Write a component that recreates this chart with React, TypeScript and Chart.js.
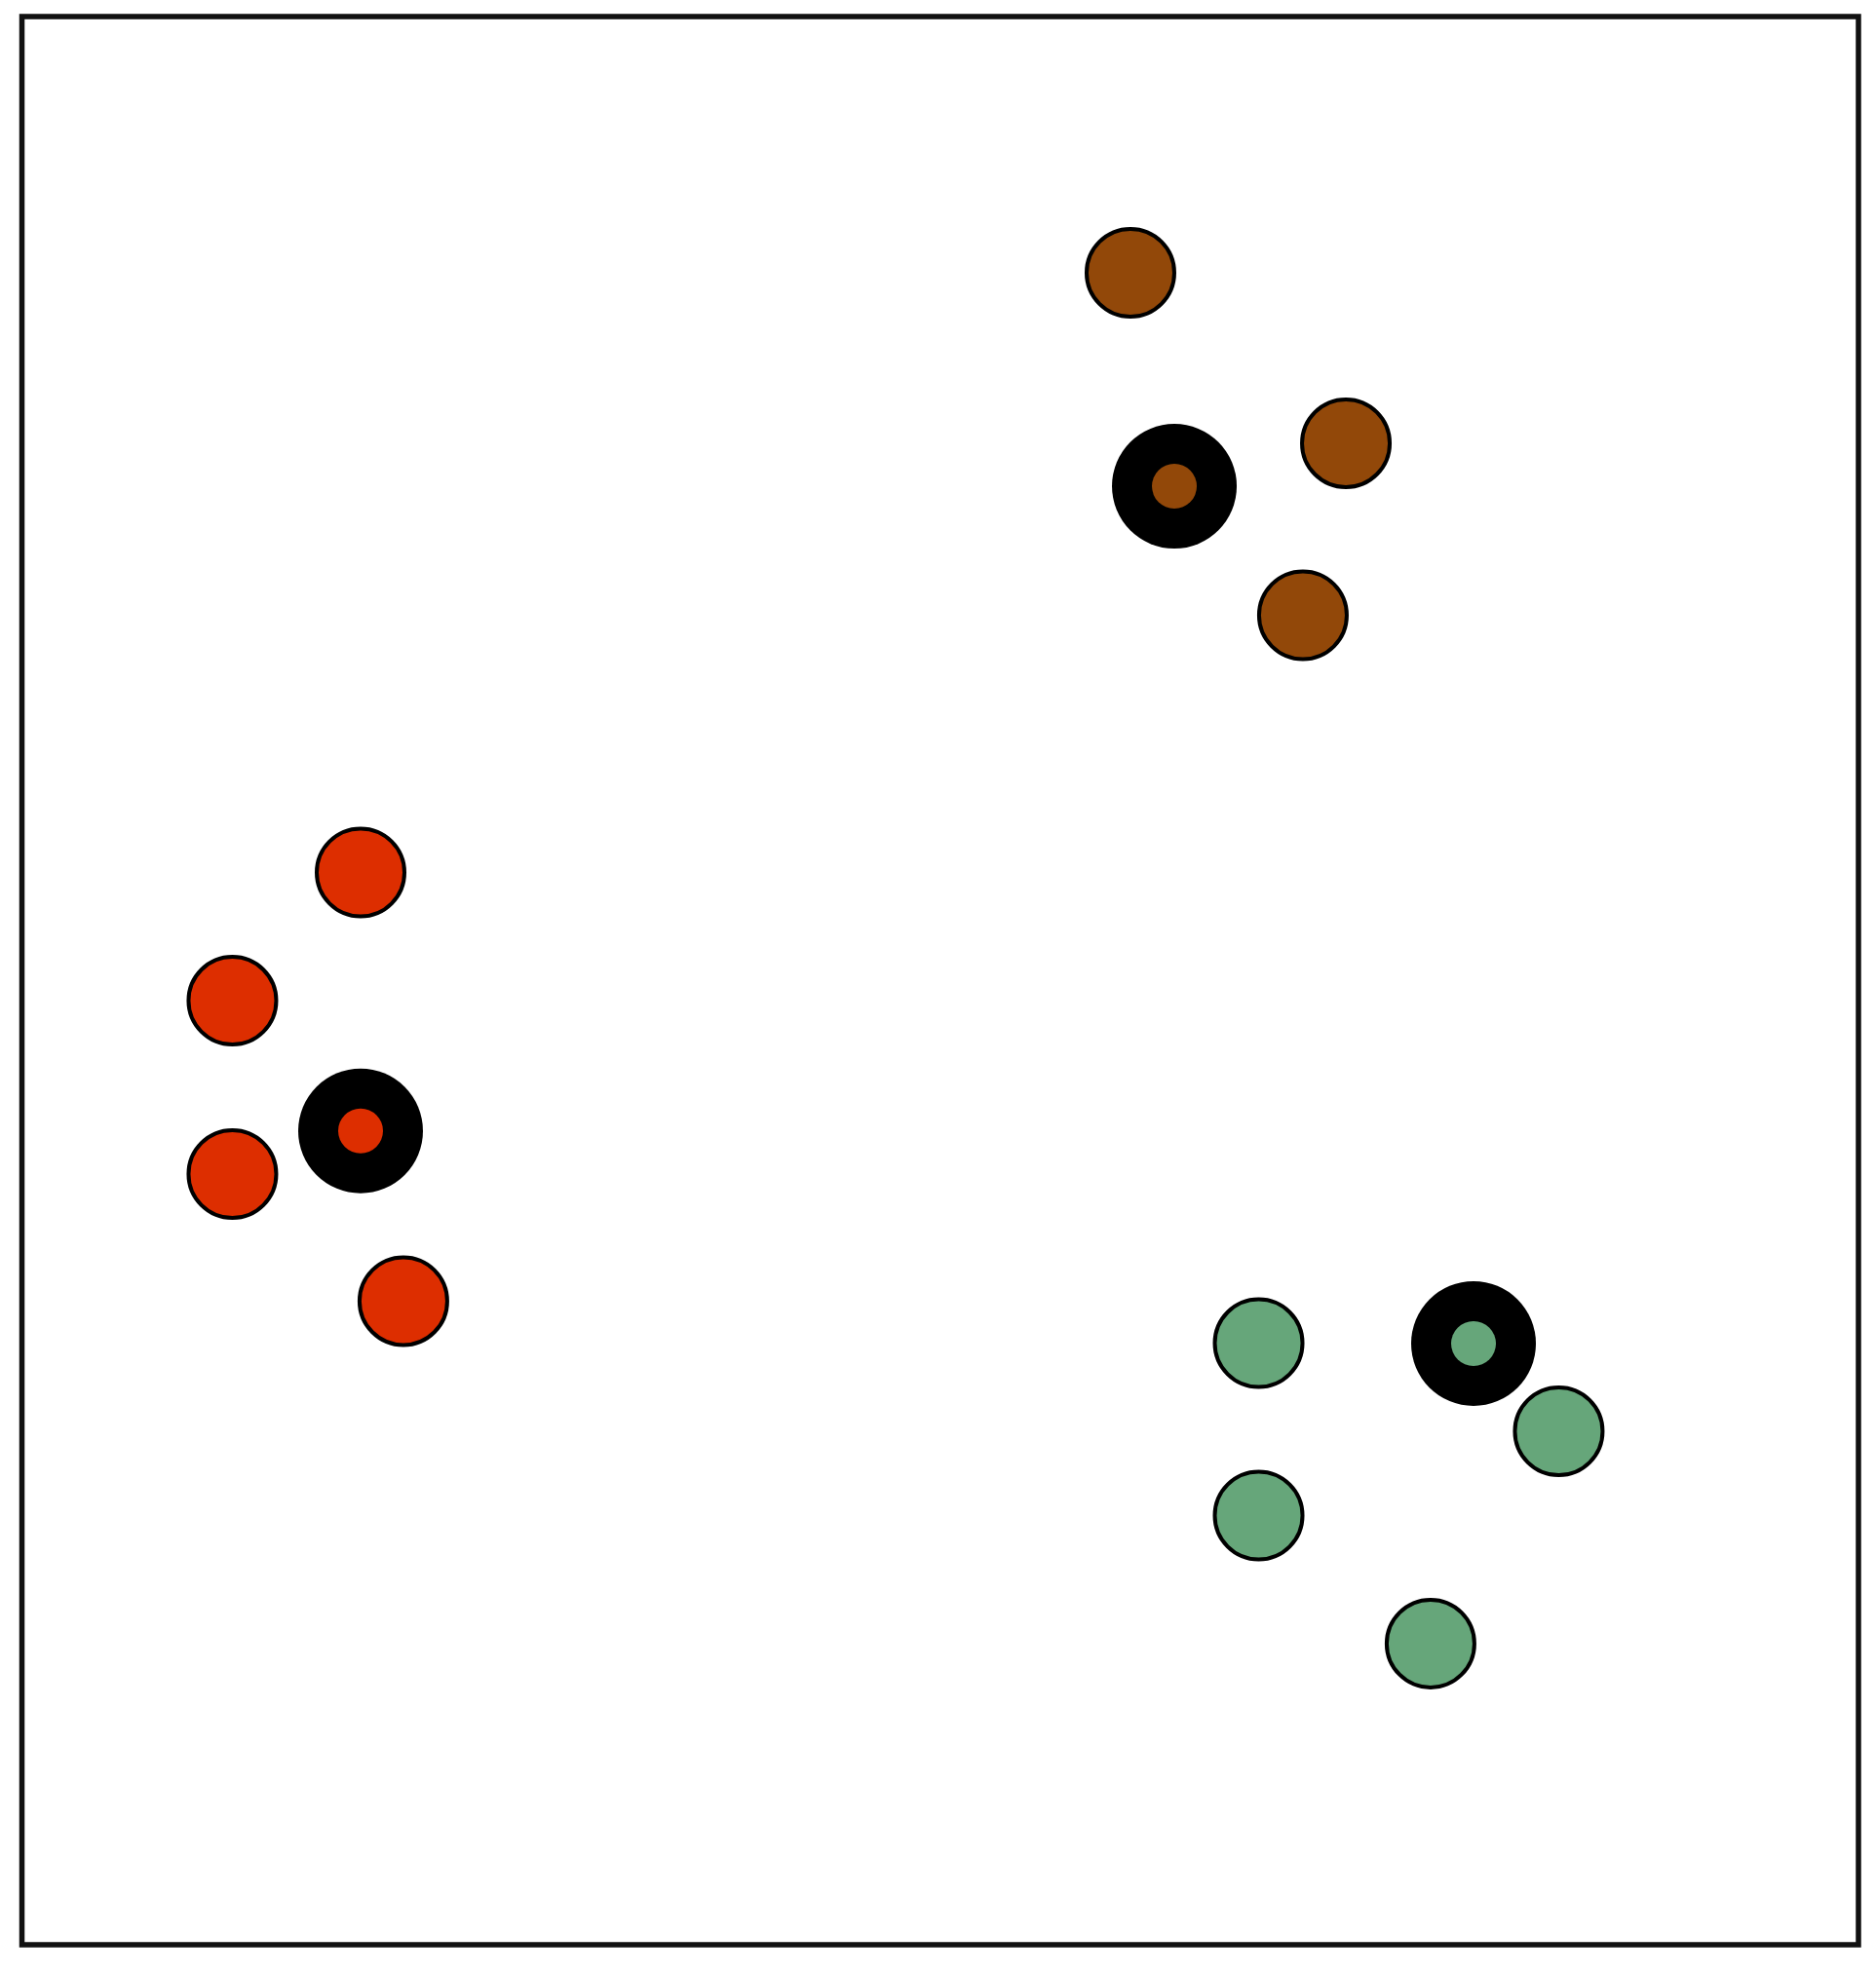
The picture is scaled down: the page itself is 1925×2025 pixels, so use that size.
import React, { useEffect, useRef } from "react";
import { Chart, registerables } from "chart.js";

Chart.register(...registerables);

// Cluster members (data units, axes 0..10)
const brownX = [6.036, 7.209, 6.975];
const brownY = [8.671, 7.787, 6.895];
const redX = [1.844, 1.146, 1.146, 2.077];
const redY = [5.561, 4.896, 3.997, 3.338];
const greenX = [6.734, 8.368, 6.734, 7.670];
const greenY = [3.12, 2.663, 2.226, 1.562];

// Centroids (brown, red, green)
const centroidX = [6.275, 1.844, 7.904];
const centroidY = [7.564, 4.221, 3.118];

const BROWN = "#924809";
const RED = "#dd2e00";
const GREEN = "#66a67a";
const centroidColors = [BROWN, RED, GREEN];

const pts = (xs: number[], ys: number[]) => xs.map((x, i) => ({ x, y: ys[i] }));

const framePlugin = {
  id: "frame",
  afterDraw(chart: any) {
    const { ctx, chartArea } = chart;
    ctx.save();
    ctx.strokeStyle = "#111";
    ctx.lineWidth = 5.5;
    ctx.strokeRect(chartArea.left, chartArea.top, chartArea.right - chartArea.left, chartArea.bottom - chartArea.top);
    ctx.restore();
  },
};

export default function App() {
  const ref = useRef<HTMLCanvasElement | null>(null);
  useEffect(() => {
    if (!ref.current) return;
    const memberStyle = { pointRadius: 45, pointBorderWidth: 4, pointBorderColor: "#000", showLine: false };
    const chart = new Chart(ref.current, {
      type: "scatter",
      data: {
        datasets: [
          {
            label: "centroid inner",
            data: pts(centroidX, centroidY),
            pointRadius: 23,
            pointBorderWidth: 0,
            pointBackgroundColor: centroidColors,
            pointBorderColor: centroidColors,
          },
          {
            label: "centroid outer",
            data: pts(centroidX, centroidY),
            pointRadius: 64,
            pointBorderWidth: 0,
            pointBackgroundColor: "#000",
            pointBorderColor: "#000",
          },
          { label: "brown", data: pts(brownX, brownY), pointBackgroundColor: BROWN, ...memberStyle },
          { label: "red", data: pts(redX, redY), pointBackgroundColor: RED, ...memberStyle },
          { label: "green", data: pts(greenX, greenY), pointBackgroundColor: GREEN, ...memberStyle },
        ],
      },
      options: {
        animation: false,
        responsive: false,
        maintainAspectRatio: false,
        clip: false as any,
        layout: { autoPadding: false, padding: { left: 22.5, top: 17, right: 18, bottom: 29 } },
        plugins: { legend: { display: false }, tooltip: { enabled: false } },
        scales: {
          x: { type: "linear", min: 0, max: 10, display: false },
          y: { type: "linear", min: 0, max: 10, display: false },
        },
      },
      plugins: [framePlugin],
    });
    return () => chart.destroy();
  }, []);
  return (
    <div style={{ position: "absolute", left: 0, top: 0, width: 1925, height: 2025, background: "#fff" }}>
      <canvas ref={ref} width={1925} height={2025} style={{ width: 1925, height: 2025, display: "block" }} />
    </div>
  );
}
